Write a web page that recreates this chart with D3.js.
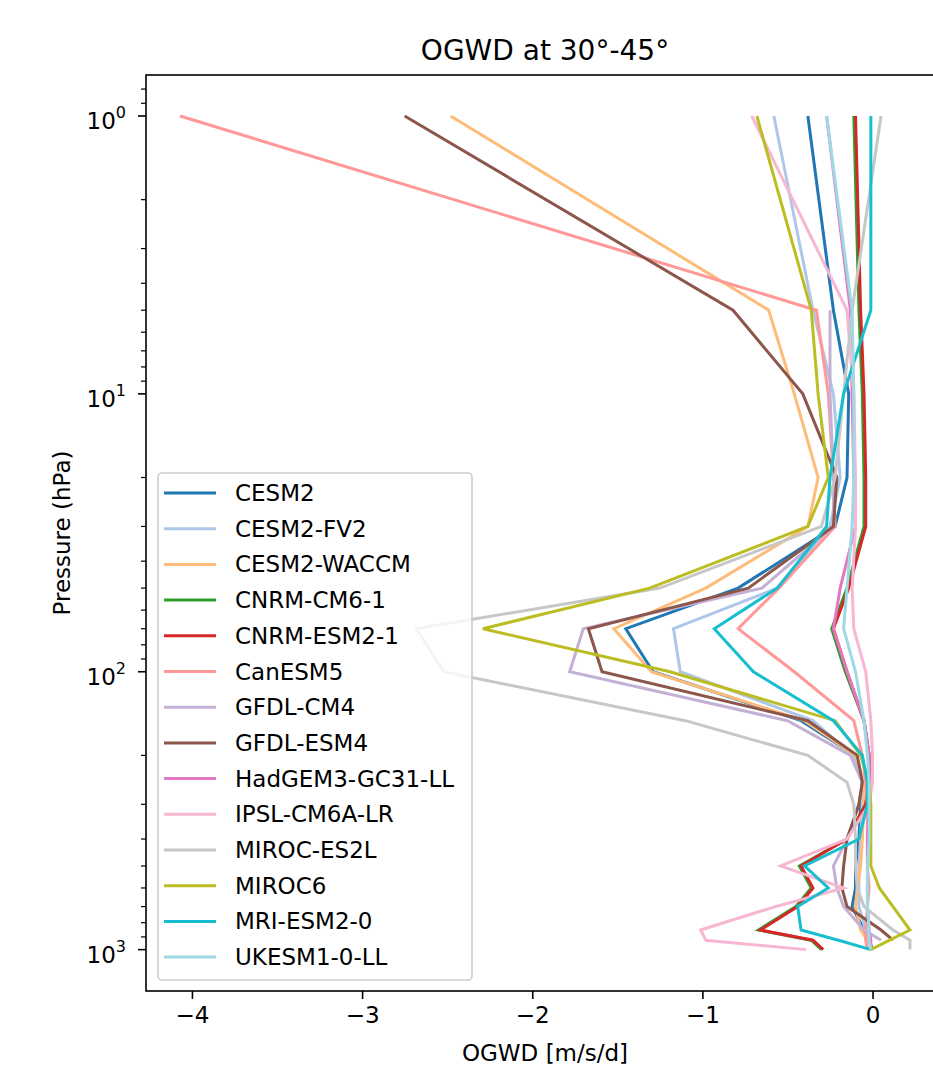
<!DOCTYPE html>
<html>
<head>
<meta charset="utf-8">
<script src="https://cdn.jsdelivr.net/npm/d3@7"></script>
<style>
  body { margin: 0; background: #fff; }
  svg { display: block; font-family: "DejaVu Sans", sans-serif; }
</style>
</head>
<body>
<svg id="chart" width="933" height="1069"></svg>
<script>
// ── Data ──
const levels = [1, 5, 10, 20, 30, 50, 70, 100, 150, 200, 250, 300, 400, 500, 600, 700, 850, 925, 1000];

const models = [
  "CESM2", "CESM2-FV2", "CESM2-WACCM", "CNRM-CM6-1", "CNRM-ESM2-1", "CanESM5", "GFDL-CM4",
  "GFDL-ESM4", "HadGEM3-GC31-LL", "IPSL-CM6A-LR", "MIROC-ES2L", "MIROC6", "MRI-ESM2-0", "UKESM1-0-LL"
];

const colors = [
  "#1f77b4", "#aec7e8", "#ffbb78", "#2ca02c", "#d62728", "#ff9896", "#c5b0d5",
  "#8c564b", "#e377c2", "#f7b6d2", "#c7c7c7", "#bcbd22", "#17becf", "#9edae5"
];

const cesm2      = [-0.38, -0.23, -0.14, -0.15, -0.22, -0.79, -1.45, -1.29, -0.42, -0.10, -0.06, -0.07, -0.08, -0.10, -0.10, -0.12, -0.05, -0.02, 0.00];
const cesm2Fv2   = [-0.58, -0.35, -0.23, -0.19, -0.25, -0.56, -1.17, -1.13, -0.35, -0.12, -0.06, -0.06, -0.07, -0.08, -0.08, -0.08, -0.04, -0.02, -0.01];
const cesm2Waccm = [-2.48, -0.61, -0.46, -0.32, -0.38, -0.98, -1.52, -1.30, -0.40, -0.10, -0.05, -0.05, -0.06, -0.07, -0.09, -0.10, -0.07, -0.03, 0.00];
const cnrmCm6    = [-0.11, -0.08, -0.06, -0.05, -0.05, -0.15, -0.24, -0.16, -0.05, -0.02, -0.02, -0.04, -0.15, -0.43, -0.36, -0.45, -0.67, -0.36, -0.30];
const cnrmEsm2   = [-0.10, -0.07, -0.05, -0.04, -0.04, -0.14, -0.23, -0.15, -0.05, -0.02, -0.02, -0.04, -0.15, -0.42, -0.35, -0.44, -0.66, -0.35, -0.29];
const canEsm5    = [-4.07, -0.33, -0.26, -0.23, -0.22, -0.55, -0.79, -0.46, -0.11, -0.06, -0.04, -0.03, -0.03, -0.03, -0.02, -0.03, -0.04, -0.04, -0.03];
const gfdlCm4    = [null, -0.25, -0.25, -0.23, -0.23, -0.65, -1.70, -1.78, -0.50, -0.13, -0.06, -0.08, -0.15, -0.23, -0.21, -0.17, -0.05, 0.05, null];
const gfdlEsm4   = [-2.75, -0.82, -0.41, -0.21, -0.23, -0.73, -1.67, -1.59, -0.38, -0.09, -0.06, -0.08, -0.15, -0.17, -0.18, -0.15, 0.05, 0.12, null];
const hadGem3    = [-0.27, -0.13, -0.12, -0.11, -0.10, -0.19, -0.23, -0.15, -0.05, -0.02, -0.02, -0.02, -0.03, -0.03, -0.03, -0.03, -0.02, -0.01, -0.01];
const ipsl       = [-0.71, -0.15, -0.11, -0.10, -0.10, -0.12, -0.11, -0.04, -0.01, 0.00, 0.00, -0.02, -0.15, -0.54, -0.17, -0.57, -1.01, -0.98, -0.39];
const mirocEs2l  = [0.05, -0.12, -0.17, -0.22, -0.30, -1.25, -2.68, -2.52, -1.10, -0.38, -0.15, -0.11, -0.10, -0.10, -0.09, -0.05, 0.12, 0.22, 0.22];
const miroc6     = [-0.68, -0.36, -0.32, -0.26, -0.38, -1.31, -2.29, -1.19, -0.22, -0.07, -0.02, -0.01, -0.01, -0.01, 0.04, 0.12, 0.22, 0.10, -0.01];
const mriEsm2    = [-0.01, -0.01, -0.17, -0.25, -0.27, -0.56, -0.93, -0.70, -0.23, -0.06, -0.03, -0.03, -0.08, -0.40, -0.26, -0.44, -0.42, -0.20, -0.01];
const ukesm1     = [-0.27, -0.12, -0.11, -0.11, -0.12, -0.15, -0.17, -0.10, -0.05, -0.03, -0.02, -0.02, -0.02, -0.03, -0.03, -0.03, -0.02, -0.02, -0.01];

const seriesValues = [cesm2, cesm2Fv2, cesm2Waccm, cnrmCm6, cnrmEsm2, canEsm5, gfdlCm4,
  gfdlEsm4, hadGem3, ipsl, mirocEs2l, miroc6, mriEsm2, ukesm1];

const xTicks = [-4, -3, -2, -1, 0];
const yTicks = [1, 10, 100, 1000];
const yExponents = ["0", "1", "2", "3"];

// ── Layout ──
const fontSize = 23;
const plot = { left: 146, right: 944, top: 75, bottom: 991 };

const svg = d3.select("#chart");

const x = d3.scaleLinear().domain([-4.27, 0.42]).range([plot.left, plot.right]);
const y = d3.scaleLog().domain([0.712, 1409]).range([plot.top, plot.bottom]);

svg.append("defs").append("clipPath").attr("id", "clip")
  .append("rect")
  .attr("x", plot.left).attr("y", plot.top)
  .attr("width", plot.right - plot.left).attr("height", plot.bottom - plot.top);

// ── Lines ──
const line = d3.line()
  .defined(d => d.v !== null)
  .x(d => x(d.v))
  .y(d => y(d.p));

const lineGroup = svg.append("g").attr("clip-path", "url(#clip)");
seriesValues.forEach((vals, i) => {
  const pts = vals.map((v, j) => ({ v: v, p: levels[j] }));
  lineGroup.append("path")
    .datum(pts)
    .attr("d", line)
    .style("fill", "none")
    .style("stroke", colors[i])
    .style("stroke-width", 3);
});

// ── X axis ──
const xAxis = d3.axisBottom(x)
  .tickValues(xTicks)
  .tickSize(8)
  .tickPadding(8)
  .tickFormat(d => d < 0 ? "\u2212" + Math.abs(d) : String(d));

const gx = svg.append("g")
  .attr("transform", `translate(0,${plot.bottom})`)
  .call(xAxis);
gx.select(".domain").remove();
gx.selectAll(".tick line").style("stroke", "#000").style("stroke-width", 1.6);
gx.selectAll(".tick text")
  .style("font-size", fontSize + "px")
  .style("font-family", "DejaVu Sans")
  .style("fill", "#000");

// ── Y axis (log, with minor ticks) ──
const minorTicks = [];
[0.1, 1, 10, 100].forEach(dec => {
  for (let k = 2; k <= 9; k++) {
    const v = dec * k;
    if (v >= y.domain()[0] && v <= y.domain()[1]) minorTicks.push(v);
  }
});

const gy = svg.append("g");
gy.selectAll("line.minor")
  .data(minorTicks)
  .join("line")
  .attr("class", "minor")
  .attr("x1", plot.left - 5).attr("x2", plot.left)
  .attr("y1", d => y(d)).attr("y2", d => y(d))
  .style("stroke", "#000").style("stroke-width", 1.2);

gy.selectAll("line.major")
  .data(yTicks)
  .join("line")
  .attr("class", "major")
  .attr("x1", plot.left - 8).attr("x2", plot.left)
  .attr("y1", d => y(d)).attr("y2", d => y(d))
  .style("stroke", "#000").style("stroke-width", 1.6);

const yLabels = gy.selectAll("text.ylab")
  .data(yTicks)
  .join("text")
  .attr("class", "ylab")
  .attr("x", plot.left - 20)
  .attr("y", d => y(d) + 13)
  .attr("text-anchor", "end")
  .style("font-size", fontSize + "px")
  .text("10");
yLabels.append("tspan")
  .attr("dy", -11)
  .style("font-size", "16px")
  .text((d, i) => yExponents[i]);

// ── Spines ──
svg.append("rect")
  .attr("x", plot.left).attr("y", plot.top)
  .attr("width", plot.right - plot.left).attr("height", plot.bottom - plot.top)
  .style("fill", "none")
  .style("stroke", "#000")
  .style("stroke-width", 1.6);

// ── Legend ──
const legend = { x: 158, y: 473, w: 314, h: 507, pitch: 35.7, firstY: 493 };
const lg = svg.append("g");
lg.append("rect")
  .attr("x", legend.x).attr("y", legend.y)
  .attr("width", legend.w).attr("height", legend.h)
  .attr("rx", 4)
  .style("fill", "#fff")
  .style("fill-opacity", 0.8)
  .style("stroke", "#cccccc")
  .style("stroke-width", 1.6);

const entries = lg.selectAll("g.entry")
  .data(models)
  .join("g")
  .attr("class", "entry")
  .attr("transform", (d, i) => `translate(0,${legend.firstY + i * legend.pitch})`);
entries.append("line")
  .attr("x1", 164).attr("x2", 216)
  .attr("y1", 0).attr("y2", 0)
  .style("stroke", (d, i) => colors[i])
  .style("stroke-width", 3);
entries.append("text")
  .attr("x", 235)
  .attr("y", 8)
  .style("font-size", fontSize + "px")
  .text(d => d);

// ── Titles ──
svg.append("text")
  .attr("x", (plot.left + plot.right) / 2)
  .attr("y", 60)
  .attr("text-anchor", "middle")
  .style("font-size", "28px")
  .text("OGWD at 30\u00b0-45\u00b0");

svg.append("text")
  .attr("x", (plot.left + plot.right) / 2)
  .attr("y", 1061)
  .attr("text-anchor", "middle")
  .style("font-size", fontSize + "px")
  .text("OGWD [m/s/d]");

svg.append("text")
  .attr("transform", `translate(70,${(plot.top + plot.bottom) / 2}) rotate(-90)`)
  .attr("text-anchor", "middle")
  .style("font-size", fontSize + "px")
  .text("Pressure (hPa)");
</script>
</body>
</html>
